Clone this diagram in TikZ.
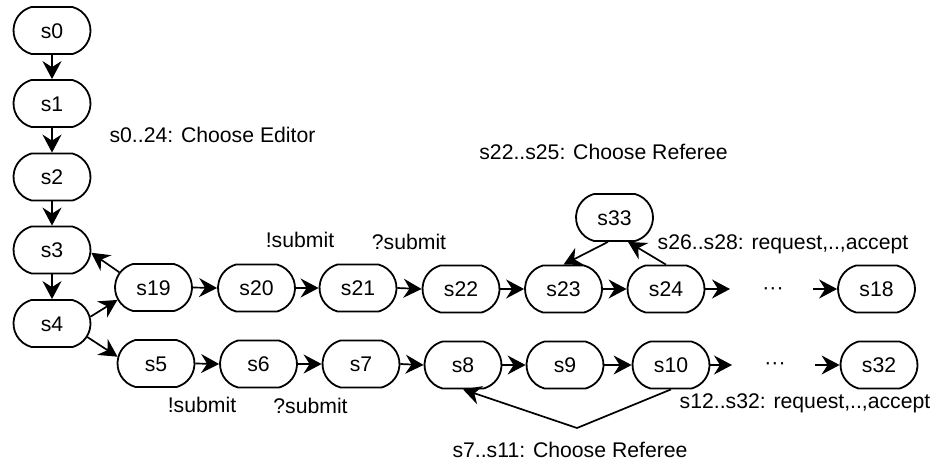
\documentclass[tikz,border=0pt]{standalone}
\usepackage{fontspec}
\setmainfont{Liberation Sans}
\usetikzlibrary{shapes.misc,arrows.meta}

\begin{document}
\begin{tikzpicture}[x=0.5pt,y=-0.5pt,
  txt/.style={font=\fontsize{10.6pt}{12pt}\selectfont, text height=7.5pt, text depth=0pt},
  state/.style={txt, draw, line width=0.9pt, rounded rectangle,
    rounded rectangle arc length=150, minimum width=38.5pt,
    minimum height=23.5pt, inner sep=0pt},
  lbl/.style={txt, inner sep=0pt},
  edge/.style={line width=0.85pt, -{Stealth[length=9pt,width=9.5pt,inset=3pt]}},
]
\useasboundingbox (0,0) rectangle (935,461);

% editor column
\node[state] (s0) at (52,30.5) {s0};
\node[state] (s1) at (52,103.5) {s1};
\node[state] (s2) at (52,177) {s2};
\node[state] (s3) at (52,250) {s3};
\node[state] (s4) at (52,323.5) {s4};

% upper branch
\node[state] (s19) at (153.5,287.5) {s19};
\node[state] (s20) at (256.5,288) {s20};
\node[state] (s21) at (358,288) {s21};
\node[state] (s22) at (461,289) {s22};
\node[state] (s23) at (563.5,289) {s23};
\node[state] (s24) at (666,289) {s24};
\node[state] (s33) at (614.5,217.5) {s33};
\node[state] (s18) at (876.5,289) {s18};
\node[lbl] (d1) at (773,287) {···};
\coordinate (a1) at (730,289);
\coordinate (a2) at (813,289);

% lower branch
\node[state] (s5) at (156,363.5) {s5};
\node[state] (s6) at (258.5,364) {s6};
\node[state] (s7) at (361,364) {s7};
\node[state] (s8) at (463,365) {s8};
\node[state] (s9) at (565,365) {s9};
\node[state] (s10) at (671,365) {s10};
\node[state] (s32) at (879,365) {s32};
\node[lbl] (d2) at (775,362) {···};
\coordinate (b1) at (732,365);
\coordinate (b2) at (815,365);
\coordinate (v) at (577,428);

% labels
\node[lbl] (l0) at (212.5,135) {s0..24: Choose Editor};
\node[lbl] (l1) at (603.5,152) {s22..s25: Choose Referee};
\node[lbl] (l2) at (300,240) {!submit};
\node[lbl] (l3) at (409,242) {?submit};
\node[lbl] (l4) at (783,242) {s26..s28: request,..,accept};
\node[lbl] (l5) at (202,405) {!submit};
\node[lbl] (l6) at (310.5,406) {?submit};
\node[lbl] (l7) at (805,401) {s12..s32: request,..,accept};
\node[lbl] (l8) at (570,450) {s7..s11: Choose Referee};

% connectors
\draw[edge] (s0.south) -- (s1.north);
\draw[edge] (s1.south) -- (s2.north);
\draw[edge] (s2.south) -- (s3.north);
\draw[edge] (s3.south) -- (s4.north);
\draw[edge] (s19.156) -- (s3.-4);
\draw[edge] (s4.10) -- (s19.199);
\draw[edge] (s4.-21) -- (s5.170);

\draw[edge] (s19.east) -- (s20.west);
\draw[edge] (s20.east) -- (s21.west);
\draw[edge] (s21.east) -- (s22.west);
\draw[edge] (s22.east) -- (s23.west);
\draw[edge] (s23.east) -- (s24.west);
\draw[edge] (s24.east) -- (a1);
\draw[edge] (a2) -- (s18.west);
\draw[edge] (s33.-105) -- (s23.north);
\draw[edge] (s24.north) -- (s33.-61);

\draw[edge] (s5.east) -- (s6.west);
\draw[edge] (s6.east) -- (s7.west);
\draw[edge] (s7.east) -- (s8.west);
\draw[edge] (s8.east) -- (s9.west);
\draw[edge] (s9.east) -- (s10.west);
\draw[edge] (s10.east) -- (b1);
\draw[edge] (b2) -- (s32.west);
\draw[edge] (s10.south) -- (v) -- (s8.south);
\end{tikzpicture}
\end{document}
